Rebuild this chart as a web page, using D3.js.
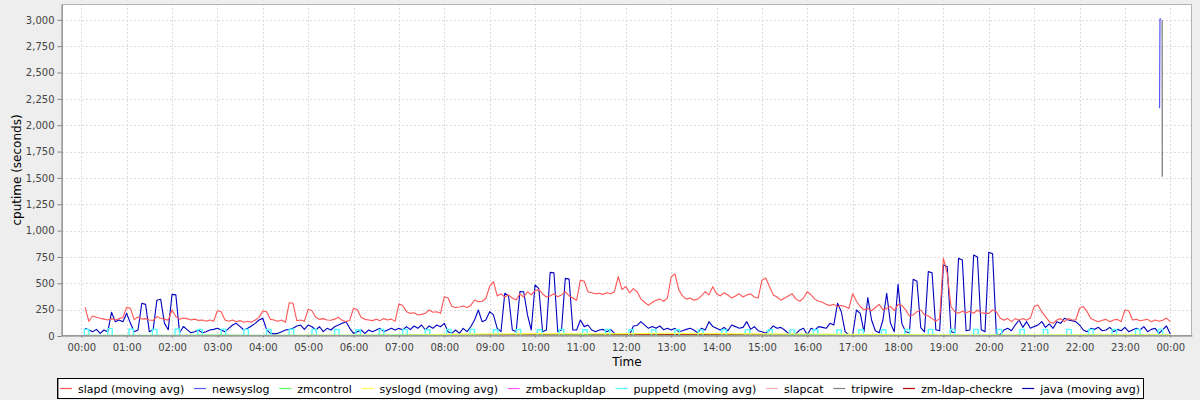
<!DOCTYPE html>
<html><head><meta charset="utf-8">
<script src="https://cdn.jsdelivr.net/npm/d3@7"></script>
<style>
body{margin:0;background:#eeeeee;}
text{font-family:"DejaVu Sans",Verdana,sans-serif;}
</style>
</head><body>
<svg id="chart" width="1200" height="400"></svg>
<script>
// ---------------- DATA ----------------
const seriesNames = ["slapd (moving avg)","newsyslog","zmcontrol","syslogd (moving avg)","zmbackupldap","puppetd (moving avg)","slapcat","tripwire","zm-ldap-checkre","java (moving avg)"];
const yTickValues = [0,250,500,750,1000,1250,1500,1750,2000,2250,2500,2750,3000];

// 5-minute samples, first sample at 00:05, last at 24:00
const sampleStart = "00:05";
const sampleStepMinutes = 5;
const slapdValues = [
 272,140,190,178,168,160,152,165,152,165,175,
 272,262,155,180,160,165,152,148,184,168,160,150,
 247,185,160,170,165,152,160,148,152,140,152,140,
 240,230,152,140,152,135,146,130,140,130,152,177,
 237,230,158,152,140,152,130,316,310,145,152,140,
 253,240,177,158,165,152,150,160,177,150,136,150,
 263,250,177,158,152,146,158,146,165,152,160,140,
 305,290,231,215,220,200,205,215,247,225,230,215,
 373,360,280,270,275,285,270,290,342,326,330,358,
 470,516,380,400,370,390,360,342,400,370,420,390,
 430,440,400,370,380,400,373,390,420,380,360,340,
 530,520,420,410,400,405,395,410,400,420,563,440,
 470,410,450,420,350,320,290,320,340,350,330,360,
 560,590,440,380,350,360,340,350,380,420,390,468,
 400,380,410,390,360,380,400,370,390,400,370,360,
 530,550,470,390,370,340,360,380,400,350,330,360,
 420,390,350,330,320,300,290,300,280,290,280,260,
 400,330,280,250,260,240,270,300,250,260,280,240,
 300,290,247,190,200,231,247,200,190,165,140,165,
 737,595,279,230,215,235,220,235,215,247,220,215,
 215,247,230,170,150,165,136,165,150,165,150,170,
 279,294,231,184,136,120,152,165,136,165,152,152,
 263,279,231,165,150,136,150,158,136,152,158,136,
 247,240,152,158,145,152,158,136,152,140,150,170,
 136];
const javaValues = [
 73,57,41,63,25,57,41,225,136,152,136,
 215,120,41,57,310,300,41,60,340,348,120,60,
 395,390,30,90,60,30,41,57,30,41,57,63,
 73,57,41,73,104,120,89,57,73,95,120,152,
 168,60,25,20,25,41,57,63,73,95,104,63,
 104,88,57,88,41,73,57,88,104,120,136,73,
 25,41,57,25,57,41,57,73,41,57,73,57,
 73,57,89,60,95,73,104,57,95,73,104,88,
 120,41,25,57,25,73,41,88,152,247,136,152,
 231,200,73,41,405,380,57,41,421,420,200,57,
 484,450,41,57,604,600,41,57,547,540,57,57,
 152,89,104,57,41,57,63,41,63,25,10,20,
 15,10,95,100,136,104,73,89,73,95,60,73,
 57,73,41,50,63,73,57,30,73,57,136,89,
 73,57,82,50,104,89,73,82,136,63,89,50,
 41,25,57,95,73,82,57,25,10,20,57,73,
 10,73,57,89,82,73,120,104,310,230,41,10,
 10,247,215,41,365,152,50,30,152,405,120,41,
 490,120,40,30,538,520,80,40,611,600,60,50,
 674,660,40,30,737,720,50,57,769,750,60,40,
 794,780,20,10,57,73,50,104,152,82,136,73,
 89,104,136,82,115,73,136,120,168,152,146,136,
 104,57,41,73,63,82,50,57,82,41,63,50,
 82,41,57,73,57,89,41,63,73,25,60,95,
 20];

// hourly samples (00:05, 01:00 ... 24:00)
const hourlyTimes = ["00:05","01:00","02:00","03:00","04:00","05:00","06:00","07:00","08:00","09:00","10:00","11:00","12:00","13:00","14:00","15:00","16:00","17:00","18:00","19:00","20:00","21:00","22:00","23:00","24:00"];
const zmcontrolValues   = [6,6,6,7,6,6,6,7,6,6,6,7,6,6,6,6,7,6,6,6,6,6,6,6,6];
const syslogdValues     = [3,3,3,3,4,6,5,6,15,20,22,20,22,25,22,20,18,15,12,10,8,8,10,10,10];
const zmbackupValues    = [0,0,0,0,0,0,0,0,0,0,0,0,0,0,0,0,0,0,0,0,0,0,0,0,0];
const slapcatValues     = [0,0,0,0,0,0,0,0,0,0,0,0,0,0,0,0,0,0,0,0,0,0,0,0,0];
const zmLdapValues      = [0,0,0,0,2,2,0,3,8,10,10,12,12,12,12,10,8,5,3,2,0,0,0,0,0];

// puppetd pulses: start time, end time, level
const puppetdStarts = ["00:04","00:35","01:03","01:34","02:04","02:34","03:05","03:35","04:05","04:35","05:05","05:35","06:03","06:34","07:05","07:35","08:03","08:34","09:05","09:35","10:03","10:32","11:03","11:33","12:04","12:34","13:05","13:36","14:07","14:38","15:08","15:37","16:08","16:39","17:08","17:38","18:09","18:40","19:09","19:40","20:11","20:41","21:12","21:43","22:12","22:43","23:14","23:44"];
const puppetdEnds   = ["00:10","00:41","01:09","01:40","02:10","02:40","03:11","03:41","04:11","04:41","05:11","05:41","06:09","06:40","07:11","07:41","08:09","08:40","09:11","09:41","10:09","10:38","11:09","11:39","12:10","12:40","13:11","13:42","14:13","14:44","15:14","15:43","16:14","16:45","17:14","17:44","18:15","18:46","19:15","19:46","20:17","20:47","21:18","21:49","22:18","22:49","23:20","23:50"];
const puppetdLevels = [63,70,68,63,66,63,65,63,62,64,63,62,60,62,63,60,62,63,60,62,60,62,60,62,60,58,60,58,60,58,60,58,60,58,60,60,63,63,63,63,63,63,63,63,63,63,63,63];

// short late-evening spikes
const newsyslogTimes  = ["23:45:50","23:46:20","23:47:50"];
const newsyslogValues = [2160,3010,3010];
const tripwireTimes   = ["23:49:10","23:49:25"];
const tripwireValues  = [3000,1512];

// ---------------- STYLE ----------------
const seriesColors = ["#ff5555","#5555ff","#55ff55","#ffff55","#ff55ff","#55ffff","#ffafaf","#808080","#c00000","#0000c0"];

// ---------------- HELPERS ----------------
const base = new Date(2000,0,1).getTime();
function tDate(str){ const p=str.split(":").map(Number); return new Date(base + ((p[0]*60+p[1])*60 + (p[2]||0))*1000); }
function minDate(m){ return new Date(base + m*60000); }
const startMin = (()=>{const p=sampleStart.split(":").map(Number);return p[0]*60+p[1];})();
function fromSamples(vals){ return vals.map((v,i)=>({t:minDate(startMin+i*sampleStepMinutes), v})); }
function fromTimes(times, vals){ return vals.map((v,i)=>({t:tDate(times[i]), v})); }
function pulses(starts, ends, levels){
  const pts=[{t:tDate(starts[0]),v:0}];
  starts.forEach((s,i)=>{ pts.push({t:tDate(s),v:0},{t:tDate(s),v:levels[i]},{t:tDate(ends[i]),v:levels[i]},{t:tDate(ends[i]),v:0}); });
  pts.push({t:tDate("24:00"),v:0});
  return pts;
}

const seriesData = [
  fromSamples(slapdValues),
  fromTimes(newsyslogTimes,newsyslogValues),
  fromTimes(hourlyTimes,zmcontrolValues),
  fromTimes(hourlyTimes,syslogdValues),
  fromTimes(hourlyTimes,zmbackupValues),
  pulses(puppetdStarts,puppetdEnds,puppetdLevels),
  fromTimes(hourlyTimes,slapcatValues),
  fromTimes(tripwireTimes,tripwireValues),
  fromTimes(hourlyTimes,zmLdapValues),
  fromSamples(javaValues)
];
const seriesWidths = [1.1,1.2,1.3,1.3,1,1.4,1,1.3,1.3,1.1];

// ---------------- CHART ----------------
const svg = d3.select("#chart");
const L=62, R=1192, T=4, B=336;
svg.append("rect").attr("width",1200).attr("height",400).attr("fill","#eeeeee");
svg.append("rect").attr("x",L).attr("y",T).attr("width",R-L).attr("height",B-T).attr("fill","#ffffff");

const x = d3.scaleTime().domain([minDate(-25.5), minDate(1468.7)]).range([L,R]);
const y = d3.scaleLinear().domain([0,3150]).range([B,T]);
const hourTicks = d3.timeHour.every(1).range(minDate(0), minDate(1441));

// grid
const grid = svg.append("g").attr("stroke","#dcdcdc").attr("stroke-dasharray","2,2").attr("stroke-width",1);
hourTicks.forEach(t=>grid.append("line").attr("x1",Math.round(x(t))+0.5).attr("x2",Math.round(x(t))+0.5).attr("y1",T).attr("y2",B));
yTickValues.forEach(v=>grid.append("line").attr("x1",L).attr("x2",R).attr("y1",Math.round(y(v))+0.5).attr("y2",Math.round(y(v))+0.5));

// series (reverse render order: last series drawn first)
svg.append("clipPath").attr("id","clip").append("rect").attr("x",L).attr("y",T).attr("width",R-L).attr("height",B-T);
const plotG = svg.append("g").attr("clip-path","url(#clip)");
const line = d3.line().x(d=>x(d.t)).y(d=>y(d.v));
for(let i=seriesData.length-1;i>=0;i--){
  plotG.append("path").datum(seriesData[i]).attr("d",line).attr("fill","none")
    .attr("stroke",seriesColors[i]).attr("stroke-width",seriesWidths[i]).attr("stroke-linejoin","round");
}

// outline
svg.append("rect").attr("x",L+0.5).attr("y",T+0.5).attr("width",R-L-1).attr("height",B-T-1).attr("fill","none").attr("stroke","#b4b4b4");

// y axis
const yAxis = d3.axisLeft(y).tickValues(yTickValues).tickFormat(d3.format(",")).tickSizeInner(4).tickSizeOuter(0).tickPadding(3);
const yg = svg.append("g").attr("transform",`translate(${L-0.5},0)`).call(yAxis);
yg.select(".domain").attr("stroke","#808080");
yg.selectAll(".tick line").attr("stroke","#808080");
yg.selectAll("text").attr("font-size",10).attr("fill","#444").attr("font-family","DejaVu Sans");

// x axis
const xAxis = d3.axisBottom(x).tickValues(hourTicks).tickFormat(d3.timeFormat("%H:%M")).tickSizeInner(2).tickSizeOuter(0).tickPadding(6);
const xg = svg.append("g").attr("transform",`translate(0,${B-0.5})`).call(xAxis);
xg.select(".domain").attr("stroke","#808080");
xg.selectAll(".tick line").attr("stroke","#808080");
xg.selectAll("text").attr("font-size",10).attr("fill","#444").attr("font-family","DejaVu Sans");

// axis labels
svg.append("text").attr("transform","translate(21,170) rotate(-90)").attr("text-anchor","middle")
  .attr("font-size",12).attr("fill","#000").text("cputime (seconds)");
svg.append("text").attr("x",(L+R)/2).attr("y",366).attr("text-anchor","middle")
  .attr("font-size",12).attr("fill","#000").text("Time");

// legend
const lg = svg.append("g");
const boxX=57, boxW=1086, boxY=378, boxH=20;
lg.append("rect").attr("x",boxX+0.5).attr("y",boxY+0.5).attr("width",boxW).attr("height",boxH).attr("fill","#ffffff").attr("stroke","#000");
lg.append("line").attr("x1",boxX+1.5).attr("x2",boxX+1.5).attr("y1",boxY+1).attr("y2",boxY+boxH).attr("stroke","#999");
const texts = seriesNames.map(n=>lg.append("text").attr("font-size",11).attr("fill","#000").text(n));
const widths = texts.map(t=>t.node().getComputedTextLength());
const lineLen=12, gapAfterLine=6, pad=3;
const totalFixed = widths.reduce((a,b)=>a+b,0) + seriesNames.length*(lineLen+gapAfterLine) + 2*pad;
const gap = (boxW - totalFixed)/(seriesNames.length-1);
let cx = boxX + pad;
const cy = boxY + boxH/2 + 0.5;
seriesNames.forEach((n,i)=>{
  lg.append("line").attr("x1",cx).attr("x2",cx+lineLen).attr("y1",cy).attr("y2",cy).attr("stroke",seriesColors[i]).attr("stroke-width",1.2);
  texts[i].attr("x",cx+lineLen+gapAfterLine).attr("y",cy+4);
  cx += lineLen+gapAfterLine+widths[i]+gap;
});
</script>
</body></html>
